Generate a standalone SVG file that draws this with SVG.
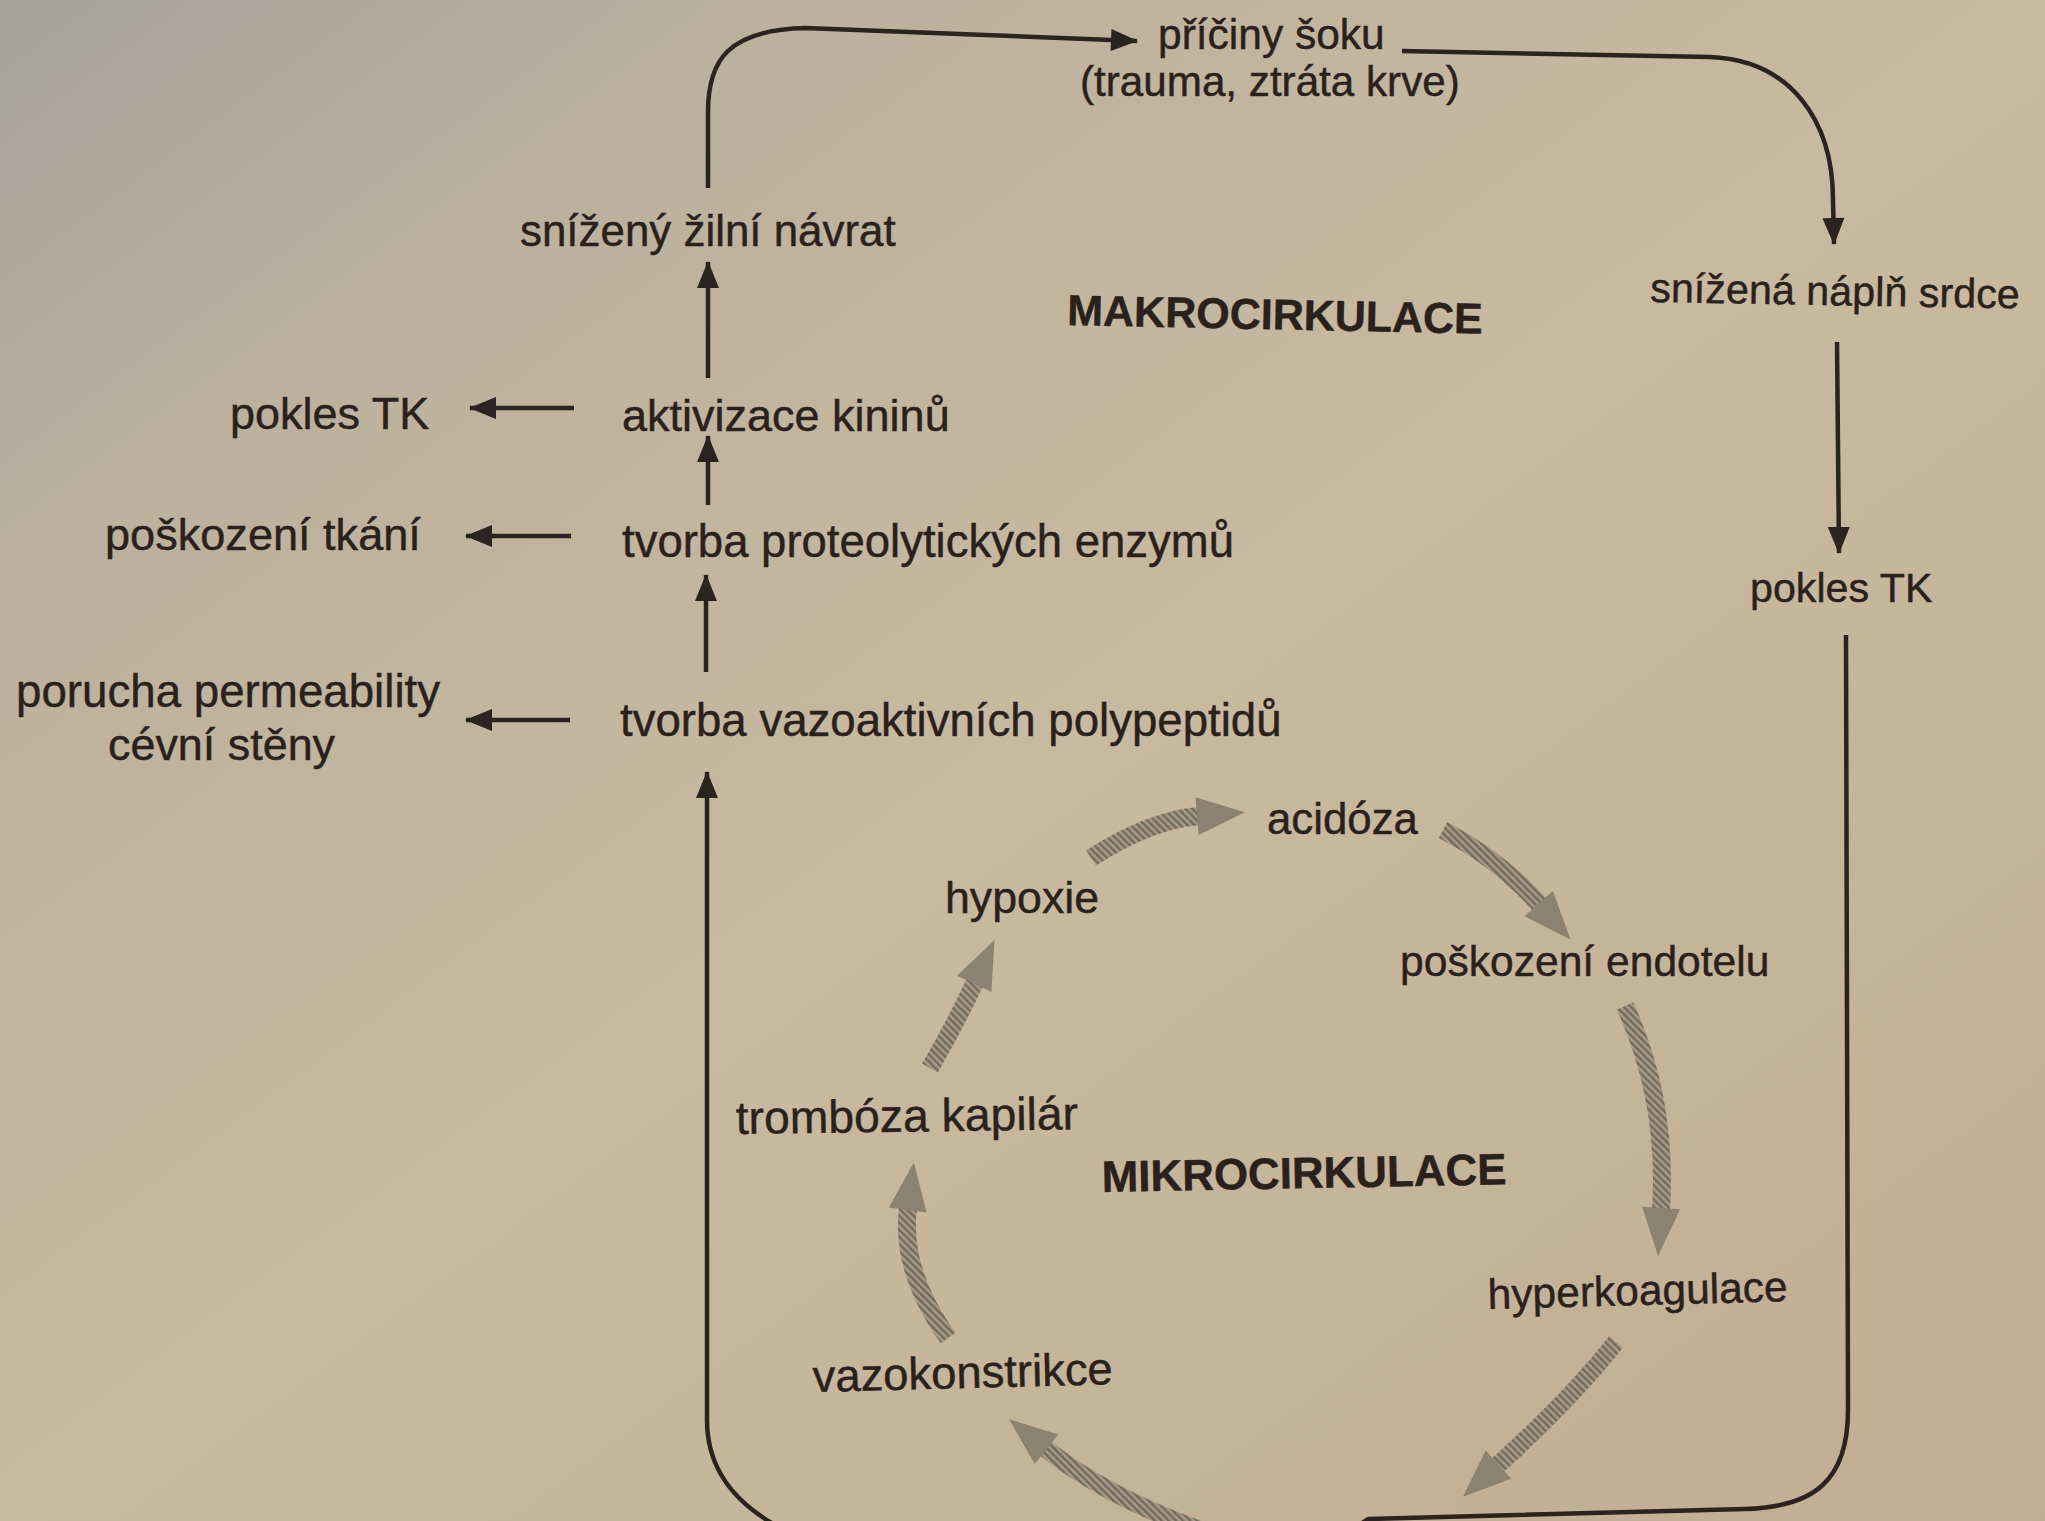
<svg xmlns="http://www.w3.org/2000/svg" width="2045" height="1521" viewBox="0 0 2045 1521">
<defs>
<linearGradient id="bg" x1="0" y1="0" x2="1" y2="1">
<stop offset="0" stop-color="#a4a29b"/>
<stop offset="0.2" stop-color="#bcb19d"/>
<stop offset="0.5" stop-color="#c8baa0"/>
<stop offset="1" stop-color="#c0ae93"/>
</linearGradient>
<pattern id="hatch" patternUnits="userSpaceOnUse" width="5" height="5" patternTransform="rotate(-45)">
<rect width="5" height="5" fill="#a69b87"/>
<rect width="2.4" height="5" fill="#736a59"/>
</pattern>
<marker id="ah" markerUnits="userSpaceOnUse" markerWidth="30" markerHeight="24" refX="26" refY="12" orient="auto" overflow="visible">
<path d="M0,1 L27,12 L0,23 z" fill="#2b2320"/>
</marker>
<marker id="gh" markerUnits="userSpaceOnUse" markerWidth="50" markerHeight="40" refX="2" refY="19" orient="auto" overflow="visible">
<path d="M0,0 L48,19 L0,38 z" fill="#8c8270"/>
</marker>
<style>
text{font-family:"Liberation Sans",Arial,sans-serif;fill:#2a211d;stroke:#2a211d;stroke-width:0.45}
.b{font-weight:bold}
.k{fill:none;stroke:#2b2320;stroke-width:4.5;stroke-linecap:butt;stroke-linejoin:round}
.ka{marker-end:url(#ah)}
.g{fill:none;stroke:url(#hatch);stroke-width:18;marker-end:url(#gh)}
</style>
</defs>
<rect width="2045" height="1521" fill="url(#bg)"/>

<g id="connectors">
<path class="k ka" d="M708,188 L708,112 C708,60 728,30 805,28 L1137,41"/>
<path class="k ka" d="M1402,51 L1710,57 C1790,60 1833,120 1833,200 L1834,244"/>
<path class="k ka" d="M1837,342 L1839,553"/>
<path class="k ka" d="M1846,635 L1848,1410 C1848,1480 1815,1507 1745,1509 L1368,1519 L1330,1545 L820,1545 C735,1515 707,1470 707,1420 L707,772"/>
<path class="k ka" d="M708,378 L708,262"/>
<path class="k ka" d="M708,505 L708,436"/>
<path class="k ka" d="M706,672 L706,575"/>
<path class="k ka" d="M574,408 L470,408"/>
<path class="k ka" d="M571,536 L466,536"/>
<path class="k ka" d="M570,720 L466,720"/>
<path class="g" d="M1091,858 Q1150,820 1199,816"/>
<path class="g" d="M1443,830 Q1500,860 1540,905"/>
<path class="g" d="M1625,1006 Q1668,1100 1661,1210"/>
<path class="g" d="M1616,1342 Q1570,1400 1497,1466"/>
<path class="g" d="M1215,1535 Q1110,1500 1045,1448"/>
<path class="g" d="M948,1338 Q900,1270 908,1208"/>
<path class="g" d="M930,1068 Q955,1025 975,982"/>
</g>

<g id="n-priciny"><text x="1158" y="49" font-size="42.5">příčiny šoku</text><text x="1080" y="96" font-size="42.2">(trauma, ztráta krve)</text></g>
<g id="n-snizena-napln"><text x="1650" y="302" font-size="41.3" transform="rotate(1 1650 302)">snížená náplň srdce</text></g>
<g id="n-pokles-tk-r"><text x="1750" y="602" font-size="41.2">pokles TK</text></g>
<g id="n-makro"><text class="b" x="1067" y="325" font-size="43" transform="rotate(1.2 1067 325)">MAKROCIRKULACE</text></g>
<g id="n-snizeny-navrat"><text x="520" y="246" font-size="43.9">snížený žilní návrat</text></g>
<g id="n-aktivizace"><text x="622" y="431" font-size="45">aktivizace kininů</text></g>
<g id="n-pokles-tk-l"><text x="230" y="429" font-size="45">pokles TK</text></g>
<g id="n-proteolyt"><text x="622" y="557" font-size="45.5">tvorba proteolytických enzymů</text></g>
<g id="n-poskozeni-tkani"><text x="105" y="550" font-size="45.1">poškození tkání</text></g>
<g id="n-vazoakt"><text x="620" y="736" font-size="45.6">tvorba vazoaktivních polypeptidů</text></g>
<g id="n-porucha"><text x="16" y="707" font-size="45.7">porucha permeability</text><text x="108" y="760" font-size="44.9">cévní stěny</text></g>
<g id="n-acidoza"><text x="1267" y="834" font-size="43.8">acidóza</text></g>
<g id="n-hypoxie"><text x="945" y="913" font-size="44.7">hypoxie</text></g>
<g id="n-endotel"><text x="1400" y="976" font-size="42.6">poškození endotelu</text></g>
<g id="n-tromboza"><text x="736" y="1134" font-size="46.3" transform="rotate(-0.8 736 1134)">trombóza kapilár</text></g>
<g id="n-mikro"><text class="b" x="1102" y="1192" font-size="43.9" transform="rotate(-1.1 1102 1192)">MIKROCIRKULACE</text></g>
<g id="n-hyperkoag"><text x="1488" y="1309" font-size="42.5" transform="rotate(-1.5 1488 1309)">hyperkoagulace</text></g>
<g id="n-vazokonstrikce"><text x="813" y="1392" font-size="45.4" transform="rotate(-1.5 813 1392)">vazokonstrikce</text></g>
</svg>
